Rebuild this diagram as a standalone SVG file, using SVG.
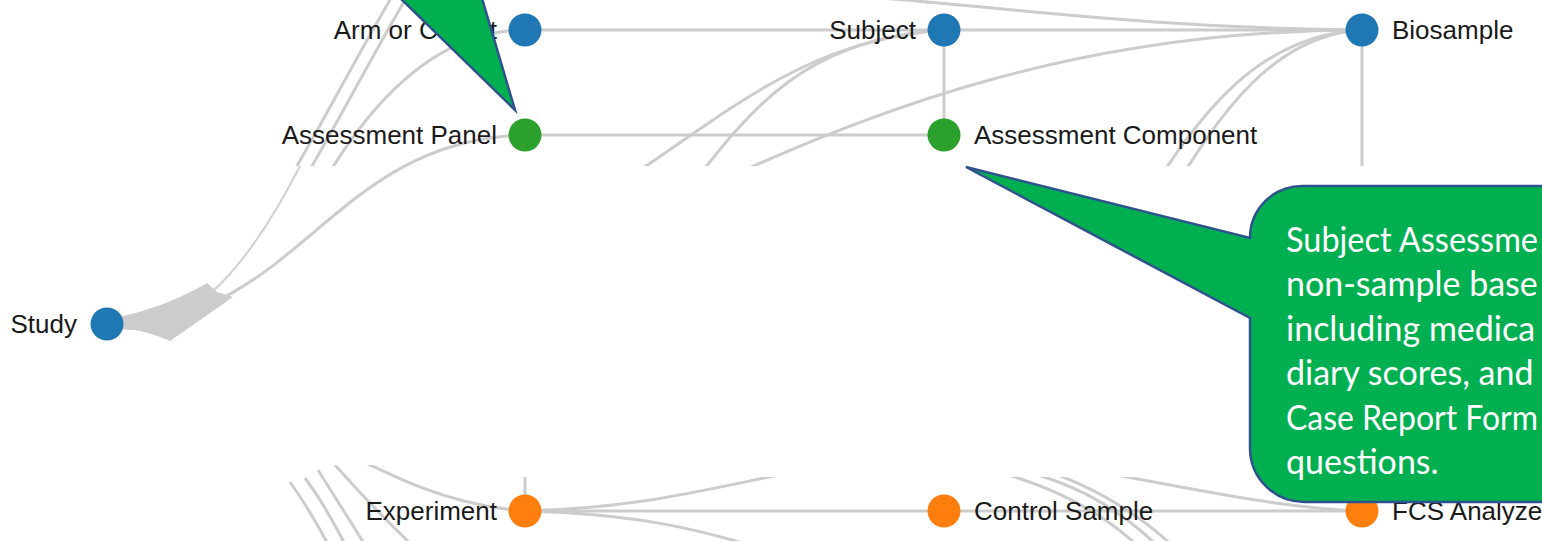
<svg xmlns="http://www.w3.org/2000/svg" width="1542" height="541" viewBox="0 0 1542 541">
<defs>
<style>
.edge{fill:none;stroke:#cccccc;stroke-width:3}
.thin{fill:none;stroke:#d0d0d0;stroke-width:2}
.fan{fill:#cccccc;stroke:none}
.lbl{font-family:"Liberation Sans",Arial,sans-serif;font-size:26px;fill:#1a1a1a}
.end{text-anchor:end}
.blue{fill:#1f77b4}
.green{fill:#2ca02c}
.orange{fill:#ff7f0e}
.callout{fill:#00b050;stroke:#2f528f;stroke-width:2.5;stroke-linejoin:miter}
.ctext{font-family:Lato,"Noto Sans",sans-serif;font-size:34px;fill:#ffffff}
</style>
<clipPath id="clipTop"><rect x="0" y="-5" width="1542" height="171"/></clipPath>
<clipPath id="clipBottom"><rect x="0" y="477" width="1542" height="70"/><rect x="0" y="465" width="470" height="80"/></clipPath>
</defs>
<rect width="1542" height="541" fill="#ffffff"/>
<g id="connectors">
  <g id="top-edges" clip-path="url(#clipTop)">
    <path class="edge" d="M525,30 L944,30"/>
    <path class="edge" d="M944,30 L1362,30"/>
    <path class="edge" d="M944,30 L944,135"/>
    <path class="edge" d="M525,135 L944,135"/>
    <path class="edge" d="M1362,30 L1362,200"/>
    <path class="edge" d="M880,-2 C1010,8 1150,28 1362,30"/>
    <path class="edge" d="M740,172 C880,110 1080,30 1362,30"/>
    <path class="edge" d="M610,190 C720,120 800,40 944,30"/>
    <path class="edge" d="M680,200 C750,110 800,40 944,30"/>
    <path class="edge" d="M1140,210 C1200,110 1260,35 1362,30"/>
    <path class="edge" d="M1165,205 C1220,110 1275,35 1362,30"/>
    <path class="edge" d="M205,290 C260,250 320,120 390,0"/>
    <path class="edge" d="M215,300 C275,250 335,120 405,0"/>
    <path class="edge" d="M250,330 C300,220 380,30 525,30"/>
  </g>
  <g id="study-fan">
    <path class="fan" d="M118,317 C150,311 185,296 207,283 L217,292 L233,297 L170,341 C150,333 135,328 118,330 Z"/>
    <path class="thin" d="M212,292 C245,262 275,215 300,166"/>
    <path class="edge" d="M118,324 C300,320 330,140 525,135"/>
  </g>
  <g id="bottom-edges" clip-path="url(#clipBottom)">
    <path class="edge" d="M525,511 L944,511"/>
    <path class="edge" d="M944,511 L1362,511"/>
    <path class="edge" d="M525,511 L525,440"/>
    <path class="edge" d="M300,430 C380,470 440,505 525,511"/>
    <path class="edge" d="M525,511 C650,508 720,485 830,465"/>
    <path class="edge" d="M525,511 C640,514 700,530 760,548"/>
    <path class="edge" d="M290,482 Q310,510 330,548"/>
    <path class="edge" d="M305,478 Q325,505 347,548"/>
    <path class="edge" d="M318,470 Q340,505 367,548"/>
    <path class="edge" d="M335,465 Q375,510 415,548"/>
    <path class="edge" d="M990,470 C1050,485 1100,510 1140,548"/>
    <path class="edge" d="M1020,470 C1080,485 1120,510 1160,548"/>
    <path class="edge" d="M1050,472 C1100,490 1140,515 1175,548"/>
    <path class="edge" d="M1100,472 C1200,490 1280,508 1362,511"/>
  </g>
</g>
<g id="node-arm"><circle class="blue" cx="525" cy="30" r="16.5"/><text class="lbl end" x="497" y="39">Arm or Cohort</text></g>
<g id="node-subject"><circle class="blue" cx="944" cy="30" r="16.5"/><text class="lbl end" x="916" y="39">Subject</text></g>
<g id="node-biosample"><circle class="blue" cx="1362" cy="30" r="16.5"/><text class="lbl" x="1392" y="39">Biosample</text></g>
<g id="node-assessment-panel"><circle class="green" cx="525" cy="135" r="16.5"/><text class="lbl end" x="497" y="144">Assessment Panel</text></g>
<g id="node-assessment-component"><circle class="green" cx="944" cy="135" r="16.5"/><text class="lbl" x="974" y="144">Assessment Component</text></g>
<g id="node-study"><circle class="blue" cx="107" cy="324" r="16.5"/><text class="lbl end" x="77" y="333">Study</text></g>
<g id="node-experiment"><circle class="orange" cx="525" cy="511" r="16.5"/><text class="lbl end" x="497" y="520">Experiment</text></g>
<g id="node-control-sample"><circle class="orange" cx="944" cy="511" r="16.5"/><text class="lbl" x="974" y="520">Control Sample</text></g>
<g id="node-fcs"><circle class="orange" cx="1362" cy="511" r="16.5"/><text class="lbl" x="1392" y="520">FCS Analyze</text></g>
<g id="callout-panel"><path class="callout" d="M397,-5 L515,110 L481,-5"/></g>
<g id="callout-component">
  <path class="callout" d="M966,167 L1250,238 A52,52 0 0 1 1302,186 L1560,186 L1560,502 L1304,502 A54,54 0 0 1 1250,448 L1250,318 Z"/>
  <text class="ctext" x="1286" y="252" textLength="252" lengthAdjust="spacingAndGlyphs">Subject Assessme</text>
  <text class="ctext" x="1286" y="296">non-sample base</text>
  <text class="ctext" x="1286" y="341">including medica</text>
  <text class="ctext" x="1286" y="385">diary scores, and</text>
  <text class="ctext" x="1286" y="430" textLength="252" lengthAdjust="spacingAndGlyphs">Case Report Form</text>
  <text class="ctext" x="1286" y="474">questions.</text>
</g>
</svg>
